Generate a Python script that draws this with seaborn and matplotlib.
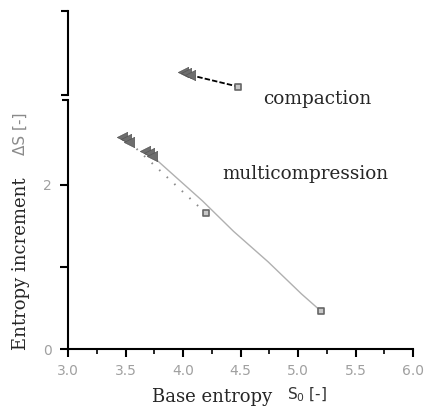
import matplotlib
matplotlib.use('Agg')
import matplotlib.pyplot as plt
import seaborn as sns
import pandas as pd
from matplotlib.ticker import FixedLocator, MultipleLocator

# Data
comp_x = [4.00, 4.03, 4.06, 4.48]
comp_y = [3.34, 3.32, 3.30, 3.16]
comp_kind = ['start', 'start', 'start', 'end']

multi_a_x = [3.47, 3.50, 3.53, 4.20]
multi_a_y = [2.58, 2.55, 2.52, 1.65]
multi_a_kind = ['start', 'start', 'start', 'end']

multi_b_x = [3.67, 3.70, 3.73, 4.17, 4.44, 4.74, 5.03, 5.20]
multi_b_y = [2.41, 2.38, 2.35, 1.80, 1.43, 1.06, 0.67, 0.46]
multi_b_kind = ['start', 'start', 'start', 'mid', 'mid', 'mid', 'mid', 'end']

x_ticks = [3.0, 3.5, 4.0, 4.5, 5.0, 5.5, 6.0]
x_ticklabels = ['3.0', '3.5', '4.0', '4.5', '5.0', '5.5', '6.0']
y_ticks = [0, 1, 2]
y_ticklabels = ['0', '', '2']

sns.set_theme(style='ticks')
plt.rcParams['font.family'] = ['DejaVu Sans']

serif = 'DejaVu Serif'
grey_tick = '#a0a0a0'
marker_grey = '#6e6e6e'

fig = plt.figure(figsize=(4.28, 4.19), dpi=100)
ax = fig.add_axes([0.159, 0.167, 0.806, 0.5935])
ax_top = fig.add_axes([0.159, 0.7733, 0.806, 0.2007], sharex=ax)

comp = pd.DataFrame({'x': comp_x, 'y': comp_y, 'kind': comp_kind})
ma = pd.DataFrame({'x': multi_a_x, 'y': multi_a_y, 'kind': multi_a_kind})
mb = pd.DataFrame({'x': multi_b_x, 'y': multi_b_y, 'kind': multi_b_kind})

# lines
sns.lineplot(data=comp.iloc[2:], x='x', y='y', sort=False, ax=ax_top,
             color='black', lw=1.3, linestyle=(0, (3, 1.2)))
sns.lineplot(data=ma.iloc[2:], x='x', y='y', sort=False, ax=ax,
             color='#8a8a8a', lw=1.4, linestyle=(0, (0.8, 4.5)))
sns.lineplot(data=mb.iloc[2:], x='x', y='y', sort=False, ax=ax,
             color='#b0b0b0', lw=1.0)

# markers
for a, df in [(ax_top, comp), (ax, ma), (ax, mb)]:
    st = df[df['kind'] == 'start']
    en = df[df['kind'] == 'end']
    sns.scatterplot(data=st, x='x', y='y', ax=a, marker='<', s=55,
                    color=marker_grey, edgecolor='#555555', linewidth=0.5, zorder=5)
    sns.scatterplot(data=en, x='x', y='y', ax=a, marker='s', s=24,
                    facecolor='#c8c8c8', edgecolor='#666666', linewidth=1.2, zorder=5)

# axes limits and spines
ax.set_xlim(3.0, 6.0)
ax.set_ylim(0, 3.024)
ax_top.set_ylim(3.06, 4.07)

for a in (ax, ax_top):
    a.spines['right'].set_visible(False)
    a.spines['top'].set_visible(False)
    a.spines['left'].set_linewidth(1.5)
    a.spines['bottom'].set_linewidth(1.5)
    a.spines['left'].set_color('black')
    a.spines['bottom'].set_color('black')
    a.set_xlabel('')
    a.set_ylabel('')
    a.set_facecolor('none')

ax_top.spines['bottom'].set_visible(False)
ax_top.tick_params(axis='x', which='both', bottom=False, labelbottom=False)
ax_top.yaxis.set_major_locator(FixedLocator([3.06, 4.07]))
ax_top.tick_params(axis='y', which='major', length=5, width=1.5, labelleft=False,
                   direction='out', color='black')

ax.set_xticks(x_ticks)
ax.set_xticklabels(x_ticklabels)
ax.xaxis.set_minor_locator(MultipleLocator(0.25))
ax.set_yticks(y_ticks)
ax.set_yticklabels(y_ticklabels)
ax.yaxis.set_minor_locator(FixedLocator([3.024]))
ax.tick_params(axis='both', which='major', length=6, width=1.5, color='black',
               labelsize=10, labelcolor=grey_tick)
ax.tick_params(axis='x', which='major', pad=5)
ax.tick_params(axis='y', which='major', pad=6)
ax.tick_params(axis='x', which='minor', length=3.5, width=1.2, color='black')
ax.tick_params(axis='y', which='minor', length=4, width=1.5, color='black')

# annotations
ax.text(4.70, 2.98, 'compaction', family=serif, fontsize=13.3, va='baseline',
        ha='left', clip_on=False)
ax.text(4.34, 2.07, 'multicompression', family=serif, fontsize=13.2, va='baseline',
        ha='left', clip_on=False)

# axis labels, split into serif and sans parts like the original
fig.text(0.048, (419 - 350) / 419, 'Entropy increment', family=serif, fontsize=13,
         rotation=90, ha='center', va='bottom')
fig.text(0.048, (419 - 155) / 419, '\u0394S [-]', fontsize=11, color='#8a8a8a',
         rotation=90, ha='center', va='bottom')
fig.text(152 / 428, (419 - 397) / 419, 'Base entropy', family=serif, fontsize=13,
         ha='left', va='center')
fig.text(287 / 428, (419 - 395) / 419, 'S$_0$ [-]', fontsize=11, color='#333333',
         ha='left', va='center')

fig.savefig('out.png', dpi=100)
